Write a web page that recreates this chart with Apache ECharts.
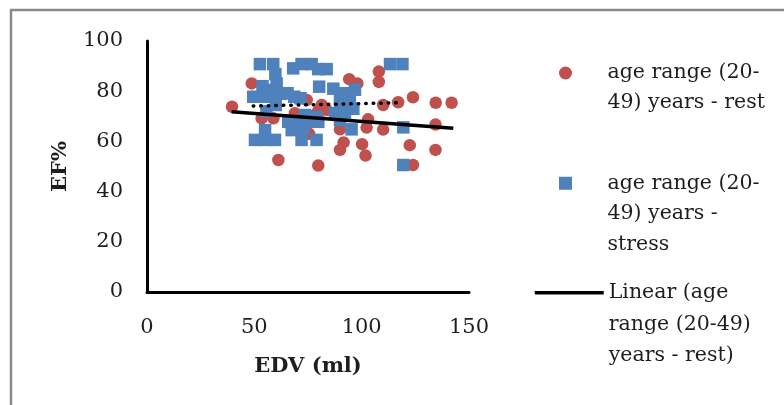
<!DOCTYPE html>
<html>
<head>
<meta charset="utf-8">
<script src="https://cdn.jsdelivr.net/npm/echarts@6/dist/echarts.min.js"></script>
<style>
  html, body { margin: 0; padding: 0; background: #fff; }
  #chart { width: 784px; height: 405px; }
</style>
</head>
<body>
<div id="chart"></div>
<script>
// EDV (ml), EF%
var restData = [
  [39.6, 73.8], [48.8, 83.1], [53.4, 69.2], [58.9, 69.2], [61.2, 52.6], [68.9, 71.2],
  [74.4, 76.5], [75.5, 63.0], [78.2, 70.5], [79.8, 72.0], [79.8, 50.4], [81.4, 74.5],
  [83.7, 72.5], [89.9, 64.8], [89.9, 56.6], [91.6, 59.6], [94.2, 84.8], [98.0, 83.1],
  [100.2, 58.9], [101.8, 54.4], [102.3, 65.5], [103.0, 68.8], [108.0, 87.8], [108.0, 83.7],
  [110.0, 74.5], [110.0, 64.7], [117.0, 75.6], [122.4, 58.5], [123.9, 77.6], [123.9, 50.6],
  [134.5, 75.4], [134.4, 66.7], [134.4, 56.6], [141.9, 75.4]
];
var stressData = [
  [52.6, 90.8], [58.8, 90.8], [68.1, 89.1], [72.0, 90.8], [76.7, 90.8], [79.8, 88.8],
  [83.7, 88.8], [113.2, 90.8], [119.0, 90.8],
  [59.8, 86.8], [60.4, 83.1], [53.8, 82.0], [57.3, 80.5], [80.2, 81.8], [86.8, 81.0],
  [96.9, 80.6], [91.4, 79.2],
  [49.5, 77.8], [54.2, 77.8], [58.8, 77.8], [62.5, 79.0], [65.5, 79.2], [68.6, 77.8],
  [71.5, 77.2], [89.9, 77.0], [94.5, 76.0], [96.1, 73.0], [89.9, 73.2], [55.6, 72.0],
  [60.0, 74.5], [87.6, 71.2], [92.2, 71.2], [89.9, 68.5],
  [65.8, 67.8], [70.5, 67.8], [75.1, 67.8], [79.8, 67.8], [67.4, 64.5], [72.8, 65.2],
  [73.6, 70.5], [78.9, 69.8], [95.3, 64.8], [119.4, 65.6],
  [50.3, 60.6], [55.0, 60.6], [59.6, 60.6], [55.0, 64.5], [72.0, 60.6], [79.0, 60.6],
  [119.4, 50.6]
];
// trend line ends as drawn in the picture
var restTrend = [[39.4, 71.8], [142.7, 65.2]];
var stressTrend = [[49.5, 74.1], [118.0, 75.4]];

var xTicks = { min: 0, max: 150, interval: 50 };
var yTicks = { min: 0, max: 100, interval: 20 };

var nameRest = 'age range (20-49) years - rest';
var nameStress = 'age range (20-49) years - stress';
var nameLinear = 'Linear (age range (20-49) years - rest)';
var legendText = {};
legendText[nameRest] = '\nage range (20-\n49) years - rest';
legendText[nameStress] = '\n\nage range (20-\n49) years -\nstress';
legendText[nameLinear] = '\n\nLinear (age\nrange (20-49)\nyears - rest)';

var serif = 'DejaVu Serif';
var red = '#C0504D', blue = '#4F81BD';

function makeLegend(item, left, top, w, lh) {
  return {
    data: [item],
    orient: 'vertical',
    left: left, top: top,
    padding: 0,
    itemWidth: w, itemHeight: 13,
    symbolKeepAspect: true,
    selectedMode: false,
    lineStyle: { width: 3.5 },
    formatter: function (n) { return legendText[n]; },
    textStyle: { fontFamily: serif, fontSize: 20.5, color: '#1e1e1e', lineHeight: lh }
  };
}

var chart = echarts.init(document.getElementById('chart'));
var option = {
  animation: false,
  backgroundColor: '#fff',
  grid: { left: 147, right: 315, top: 41, bottom: 113 },
  legend: [
    makeLegend({ name: nameRest, icon: 'circle' }, 559, 28, 74, 30),
    makeLegend({ name: nameStress, icon: 'path://M0,0H10V10H0Z' }, 559, 107, 74, 30.5),
    makeLegend({ name: nameLinear, itemStyle: { color: 'rgba(0,0,0,0)', borderWidth: 0 } }, 533, 214, 69, 31.5)
  ],
  xAxis: {
    type: 'value',
    min: xTicks.min, max: xTicks.max, interval: xTicks.interval,
    name: 'EDV (ml)', nameLocation: 'middle', nameGap: 64, nameMoveOverlap: false,
    nameTextStyle: { fontFamily: serif, fontSize: 21, fontWeight: 'bold', color: '#1e1e1e' },
    axisLine: { lineStyle: { color: '#000', width: 3 } },
    axisTick: { show: false },
    splitLine: { show: false },
    axisLabel: { fontFamily: serif, fontSize: 21, color: '#1e1e1e', margin: 25 }
  },
  yAxis: {
    type: 'value',
    min: yTicks.min, max: yTicks.max, interval: yTicks.interval,
    name: 'EF%', nameLocation: 'middle', nameGap: 76, nameMoveOverlap: false,
    nameTextStyle: { fontFamily: serif, fontSize: 21, fontWeight: 'bold', color: '#1e1e1e' },
    axisLine: { show: true, lineStyle: { color: '#000', width: 3 } },
    axisTick: { show: false },
    splitLine: { show: false },
    axisLabel: { fontFamily: serif, fontSize: 21, color: '#1e1e1e', margin: 24 }
  },
  series: [
    {
      name: nameRest, type: 'scatter', data: restData,
      symbol: 'circle', symbolSize: 12.5,
      itemStyle: { color: red, opacity: 1 }, z: 2
    },
    {
      name: nameStress, type: 'scatter', data: stressData,
      symbol: 'rect', symbolSize: 12.5,
      itemStyle: { color: blue, opacity: 1 }, z: 3
    },
    {
      name: nameLinear, type: 'line', data: restTrend,
      symbol: 'none', itemStyle: { color: '#000' },
      lineStyle: { color: '#000', width: 3.5 }, z: 4
    },
    {
      name: 'Linear (stress)', type: 'line', data: stressTrend,
      symbol: 'none', itemStyle: { color: '#000' },
      lineStyle: { color: '#000', width: 3.5, type: [0.5, 7], cap: 'round' }, z: 4
    }
  ],
  graphic: [{
    type: 'rect', silent: true,
    shape: { x: 11, y: 10, width: 900, height: 600 },
    style: { fill: 'none', stroke: '#8a8a8a', lineWidth: 2.5 }
  }]
};
chart.setOption(option);
</script>
</body>
</html>
